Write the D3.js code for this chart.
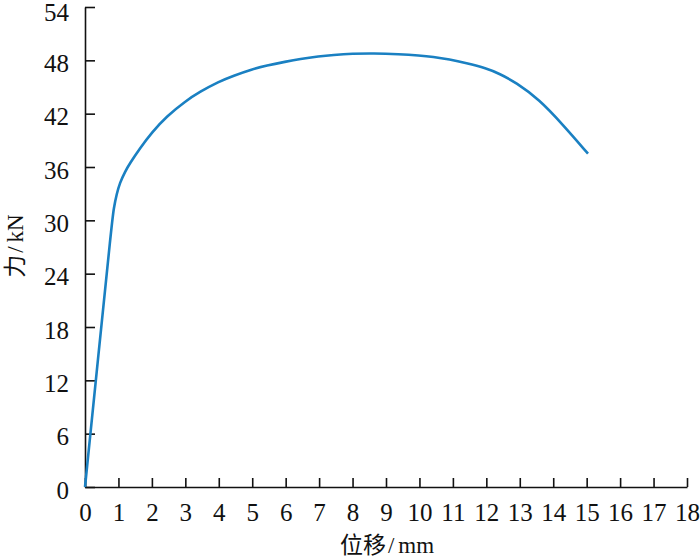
<!DOCTYPE html>
<html>
<head>
<meta charset="utf-8">
<script src="https://cdn.jsdelivr.net/npm/d3@7"></script>
<style>
  body { margin: 0; background: #fff; }
  svg { display: block; }
  .axis text { font-family: "Liberation Serif", "Times New Roman", serif; font-size: 25px; fill: #111; }
  .axis path, .axis line { stroke: #111; stroke-width: 1.6; }
  .label { font-family: "Liberation Serif", "Noto Sans CJK SC", serif; font-size: 23px; fill: #111; }
</style>
</head>
<body>
<svg id="svg" width="700" height="560"></svg>
<script>
// displacement (mm) and force (kN)
var disp  = [0, 0.4, 0.8, 0.86, 0.95, 1.04, 1.2, 1.34, 1.64, 2.0, 2.44, 3.0, 3.43, 4.0, 4.43, 5.0, 5.42, 6.0, 6.42, 7.0, 7.41, 8.0, 8.61, 9.4, 10.0, 10.4, 10.9, 11.39, 12.0, 12.39, 12.89, 13.58, 14.28, 15.04];
var force = [0, 14.8, 29.6, 31.4, 33.0, 34.2, 35.5, 36.4, 38.1, 39.9, 41.7, 43.4, 44.45, 45.6, 46.25, 47.0, 47.4, 47.85, 48.15, 48.45, 48.6, 48.75, 48.8, 48.7, 48.55, 48.4, 48.1, 47.7, 47.1, 46.5, 45.5, 43.6, 40.8, 37.5];
var xTicks = d3.range(0, 19, 1);
var yTicks = [0, 6, 12, 18, 24, 30, 36, 42, 48, 54];

function line_chart() {
    var svg = d3.select("svg"),
        margin = {left: 85, right: 13, top: 7, bottom: 73},
        width = 700 - margin.left - margin.right,
        height = 560 - margin.top - margin.bottom;

    var g = svg.append("g").attr("transform", "translate(" + margin.left + "," + margin.top + ")");

    var x = d3.scaleLinear().domain([0, 18]).range([0, width]);
    var y = d3.scaleLinear().domain([0, 54]).range([height, 0]);

    // x axis, ticks pointing up
    var xa = g.append("g")
        .attr("class", "axis")
        .attr("transform", "translate(0," + height + ")")
        .call(d3.axisBottom(x).tickValues(xTicks).tickSizeInner(-9).tickSizeOuter(0).tickPadding(16));
    xa.selectAll("text").attr("dy", "0.71em");

    // y axis, ticks pointing right
    var ya = g.append("g")
        .attr("class", "axis")
        .call(d3.axisLeft(y).tickValues(yTicks).tickSizeInner(-10).tickSizeOuter(0).tickPadding(16));
    ya.selectAll("text").attr("dy", function (d) { return d === 54 ? "0.53em" : "0.45em"; });

    var line = d3.line()
        .x(function (d, i) { return x(disp[i]); })
        .y(function (d, i) { return y(force[i]); })
        .curve(d3.curveBasis);

    g.append("path")
        .datum(force)
        .attr("fill", "none")
        .attr("stroke", "#1a80c2")
        .attr("stroke-width", 2.6)
        .attr("stroke-linejoin", "round")
        .attr("d", line);

    var xl = svg.append("text")
        .attr("class", "label")
        .attr("text-anchor", "middle")
        .attr("x", 387)
        .attr("y", 553);
    xl.append("tspan").text("位移");
    xl.append("tspan").attr("dx", 2).text("/");
    xl.append("tspan").attr("dx", 4).text("mm");

    var yl = svg.append("text")
        .attr("class", "label")
        .attr("text-anchor", "middle")
        .attr("transform", "translate(23,246) rotate(-90)");
    yl.append("tspan").text("力");
    yl.append("tspan").attr("dx", 2).text("/");
    yl.append("tspan").attr("dx", 4).text("kN");
}

line_chart();
</script>
</body>
</html>
